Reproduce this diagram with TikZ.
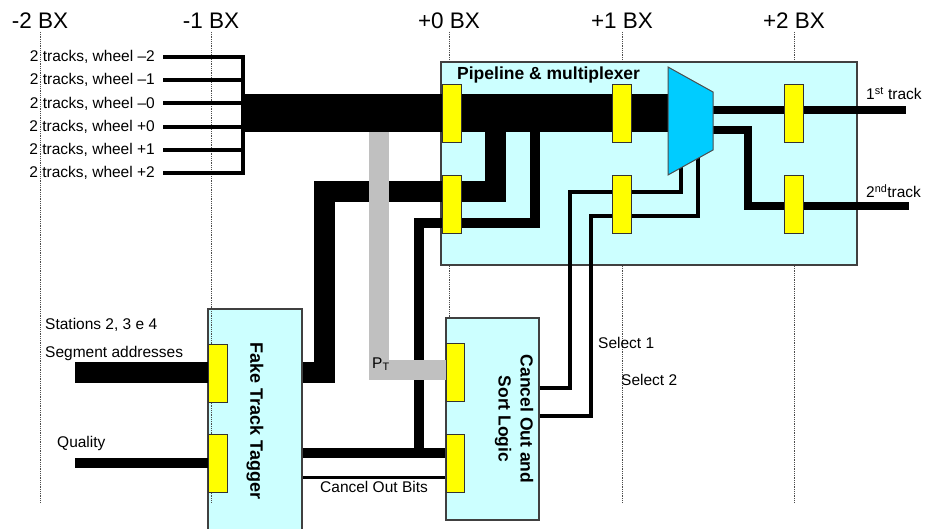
\documentclass[tikz,border=0pt]{standalone}
\usepackage{fontspec}
\setmainfont{Liberation Sans}
\usetikzlibrary{calc}
\definecolor{boxcyan}{HTML}{CCFFFF}
\definecolor{muxcyan}{HTML}{00CCFF}
\definecolor{regyellow}{HTML}{FFFF00}
\definecolor{ptgray}{HTML}{C0C0C0}
\pgfdeclarelayer{boxes}
\pgfdeclarelayer{wires}
\pgfsetlayers{boxes,wires,main}
\begin{document}
\begin{tikzpicture}[x=1pt,y=-1pt,
  blk/.style={draw=black!75, line width=1.3pt, fill=boxcyan, inner sep=0pt},
  reg/.style={draw=black!80, line width=0.9pt, fill=regyellow, inner sep=0pt, minimum width=19pt, minimum height=58pt},
  lbl/.style={inner sep=0pt, font=\fontsize{15.5}{18}\selectfont},
  bx/.style={inner sep=0pt, font=\fontsize{22.5}{26}\selectfont},
  col/.style={densely dotted, line width=0.8pt, black!70},
  trk/.style={line width=4pt, line cap=rect},
  sel/.style={line width=3.5pt},
  mid/.style={line width=9.5pt},
  fat/.style={line width=21pt},
  bus/.style={line width=38pt},
  outl/.style={line width=7.5pt},
  ptl/.style={line width=20pt, ptgray}]
\useasboundingbox (0,0) rectangle (927,529);

% boxes and BX columns
\begin{pgfonlayer}{boxes}
\fill[white] (0,0) rectangle (927,529);
\node[blk, minimum width=94pt, minimum height=226pt] (ftt) at (255,422) {};
\foreach \x/\n in {40/-2,211/-1,449/+0,622/+1,794/+2} {
  \node[bx, anchor=base] (bx\x) at (\x,29) {\n\ BX};
  \draw[col] (\x,32) -- (\x,502);
}
\node[blk, minimum width=416pt, minimum height=203pt] (pipe) at (649,163.5) {};
\node[blk, minimum width=93pt, minimum height=202pt] (csl) at (492.5,419) {};
\end{pgfonlayer}

% registers
\node[reg] (p0a) at (451.5,113) {};
\node[reg] (p0b) at (451.5,204) {};
\node[reg] (p1a) at (621.5,113) {};
\node[reg] (p1b) at (621.5,204) {};
\node[reg] (p2a) at (794,113) {};
\node[reg] (p2b) at (794,204) {};
\node[reg] (f1) at (217.5,373) {};
\node[reg] (f2) at (217.5,463) {};
\node[reg, minimum width=18pt] (c1) at (455,372) {};
\node[reg, minimum width=18pt] (c2) at (455,463) {};

% multiplexer
\coordinate (m1) at (668,67);
\coordinate (m2) at (713,92);
\coordinate (m3) at (713,150);
\coordinate (m4) at (668,175);
\draw[draw=black!70, line width=1pt, fill=muxcyan] (m1) -- (m2) -- (m3) -- (m4) -- cycle;

% free ends
\coordinate (jn) at (243,113);
\coordinate (segin) at (75,373);
\coordinate (qin) at (75,463);
\coordinate (trk1) at (906,110);
\coordinate (trk2) at (909,206);

% wires
\begin{pgfonlayer}{wires}
\foreach \w [count=\i] in {--2,--1,--0,+0,+1,+2} {
  \node[lbl, anchor=east] (t\i) at (155,{57+23.2*(\i-1)}) {2 tracks, wheel \w};
  \draw[trk] ([xshift=10pt]t\i.east) -- (t\i.east -| jn);
}
\draw[trk] (t1.east -| jn) -- (t6.east -| jn);
\draw[mid] (535,113) -- (535,223) -- (419,223) -- (419,453);
\draw[mid] (ftt.east |- 0,453) -- (csl.west |- 0,453);
\draw[sel] (ftt.east |- 0,477.5) -- (csl.west |- 0,477.5);
\draw[fat] (ftt.east |- f1) -- (324,373) -- (324,192) -- (p0b.west |- 0,192);
\draw[fat] (495,113) -- (495,192) -- (p0b.east |- 0,192);
\draw[fat] (segin) -- (f1.west);
\draw[mid] (qin) -- (f2.west);
\draw[sel] (csl.east |- 0,388) -| (570,192) -| (681,160);
\draw[sel] (csl.east |- 0,416) -| (591,216) -| (698,150);
\draw[outl] (m2 |- trk1) -- (trk1);
\draw[outl] (m2 |- 0,130) -| (748,206) -- (trk2);
\draw[ptl] (379,132) -- (379,370) -- (c1.west |- 0,370);
\draw[bus] (jn) -- (jn -| m1);
\end{pgfonlayer}

% texts
\node[anchor=west, inner sep=0pt, font=\bfseries\fontsize{17.5}{20}\selectfont] (pipettl) at (457,75) {Pipeline \& multiplexer};
\node[rotate=-90, inner sep=0pt, font=\bfseries\fontsize{18}{22}\selectfont] (ftttxt) at (255,421) {Fake Track Tagger};
\node[rotate=-90, inner sep=0pt, align=center, font=\bfseries\fontsize{17.5}{22}\selectfont] (csltxt) at (514,419) {Cancel Out and\\Sort Logic};
\node[lbl, anchor=base west] (lab1) at (866,100) {1\textsuperscript{st} track};
\node[lbl, anchor=base west] (lab2) at (866,198) {2\textsuperscript{nd}track};
\node[lbl, anchor=west] (stat) at (45,325) {Stations 2, 3 e 4};
\node[lbl, anchor=west] (sega) at (45,353) {Segment addresses};
\node[lbl, anchor=west] (qual) at (57,443) {Quality};
\node[lbl, anchor=west] (cbits) at (320,487) {Cancel Out Bits};
\node[lbl, anchor=west] (sel1) at (598,343) {Select 1};
\node[lbl, anchor=west] (sel2) at (621,380) {Select 2};
\node[lbl, anchor=west] (ptlab) at (372,364) {P\textsubscript{T}};
\end{tikzpicture}
\end{document}
